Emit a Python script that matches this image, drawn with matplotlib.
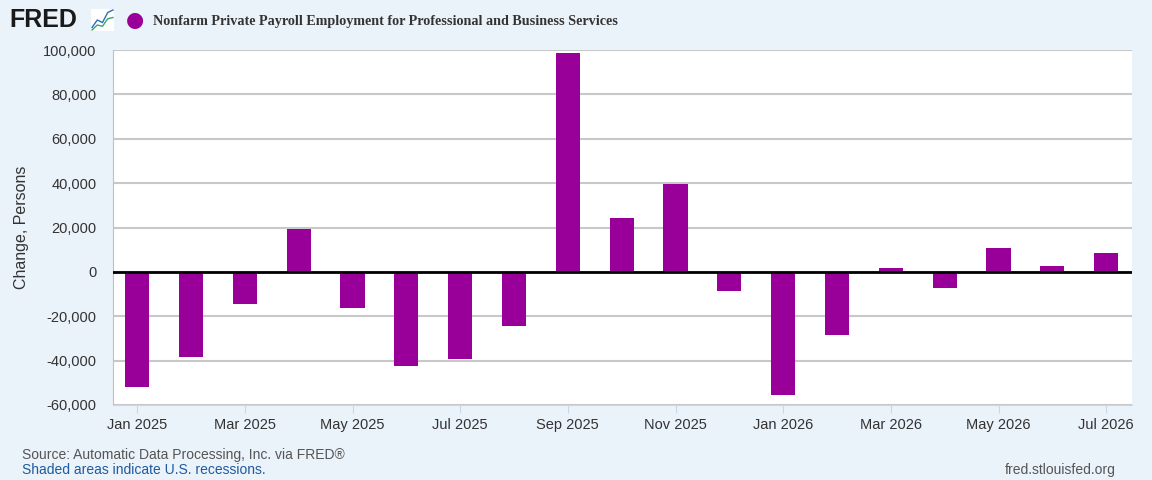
import numpy as np
import matplotlib
matplotlib.use("Agg")
import matplotlib.pyplot as plt
from matplotlib.ticker import FuncFormatter

plt.rcParams['font.family'] = ['Liberation Sans', 'DejaVu Sans']

# datos mensuales (cambio, personas)
months = ["Jan 2025", "Feb 2025", "Mar 2025", "Apr 2025", "May 2025", "Jun 2025",
          "Jul 2025", "Aug 2025", "Sep 2025", "Oct 2025", "Nov 2025", "Dec 2025",
          "Jan 2026", "Feb 2026", "Mar 2026", "Apr 2026", "May 2026", "Jun 2026",
          "Jul 2026"]
values = [-52000, -38500, -14300, 19300, -16400, -42500,
          -39300, -24400, 98600, 24500, 39400, -8600,
          -55600, -28600, 1700, -7400, 10700, 2600,
          8400]
yticks = [-60000, -40000, -20000, 0, 20000, 40000, 60000, 80000, 100000]

bg = "#eaf2fa"
purple = "#990099"

fig = plt.figure(figsize=(11.52, 4.8), dpi=100, facecolor=bg)
ax = fig.add_axes([113/1152, 75/480, 1019/1152, 355/480])
ax.set_facecolor("white")

x = np.arange(len(months))
ax.bar(x, values, width=0.45, color=purple, zorder=3)
ax.axhline(0, color="black", lw=2, zorder=4)

ax.set_ylim(-60000, 100000)
ax.set_xlim(-0.45, len(months) - 1 + 0.48)
ax.set_yticks(yticks)
ax.yaxis.set_major_formatter(FuncFormatter(lambda v, p: f"{int(v):,}"))
ax.grid(axis="y", color="#c8c8c8", lw=1.5, zorder=1)
ax.tick_params(axis="y", length=0, labelsize=10.5, labelcolor="#333333", pad=12)

ax.set_xticks(x[::2])
ax.set_xticklabels(months[::2])
ax.tick_params(axis="x", length=6, color="#c8d6e8", labelsize=10.5, labelcolor="#333333")

for s in ["top", "right"]:
    ax.spines[s].set_visible(False)
ax.spines["left"].set_color("#c0c0c0")
ax.spines["bottom"].set_color("#c8d6e8")

ax.set_ylabel("Change, Persons", fontsize=11.5, color="#333333", labelpad=10)

# encabezado
fig.text(9/1152, 1 - 20/480, "FRED", fontsize=18, fontweight="bold", color="#1a1a1a",
         va="center", ha="left")
ia = fig.add_axes([91/1152, 1 - 31/480, 23/1152, 22/480])
ia.set_facecolor("white")
ia.plot([0, 1, 2, 3, 4], [0.2, 0.5, 0.4, 0.8, 0.9], color="#2a6fbf", lw=1)
ia.plot([0, 1, 2, 3, 4], [0.1, 0.3, 0.25, 0.55, 0.6], color="#3aa56b", lw=1)
ia.set_xticks([]); ia.set_yticks([])
for s in ia.spines.values():
    s.set_visible(False)

fig.text(135/1152, 1 - 20/480, "\u25cf", fontsize=15, color=purple, va="center", ha="center",
         family="DejaVu Sans")
fig.text(153/1152, 1 - 21/480,
         "Nonfarm Private Payroll Employment for Professional and Business Services",
         fontsize=10.2, fontweight="bold", color="#333333", va="center", ha="left",
         family="Liberation Serif")

# pie de pagina
fig.text(22/1152, 1 - 455/480, "Source: Automatic Data Processing, Inc. via FRED\u00ae",
         fontsize=10, color="#555555", va="center", ha="left")
fig.text(22/1152, 1 - 470/480, "Shaded areas indicate U.S. recessions.",
         fontsize=10, color="#1f5a9e", va="center", ha="left")
fig.text(1116/1152, 1 - 470/480, "fred.stlouisfed.org",
         fontsize=10, color="#555555", va="center", ha="right")

fig.savefig("out.png", dpi=100, facecolor=bg)
